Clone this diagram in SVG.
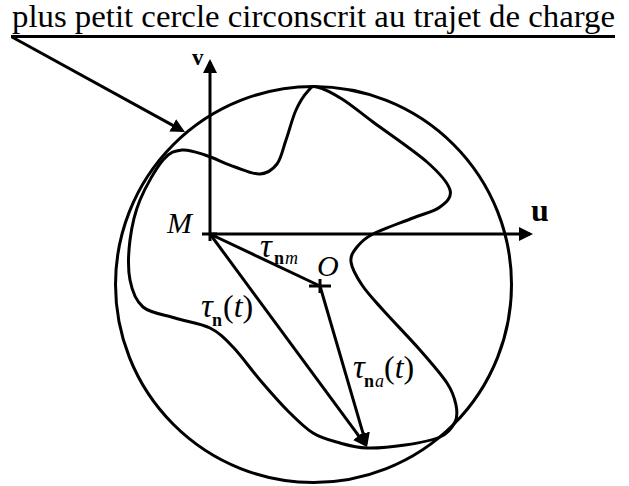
<svg xmlns="http://www.w3.org/2000/svg" width="629" height="486" viewBox="0 0 629 486">
<style>
.ln{fill:none;stroke:#000;stroke-width:3;stroke-linecap:butt;stroke-linejoin:round}
text{font-family:"Liberation Serif","Times New Roman",serif;fill:#000}
.it{font-style:italic}
.bd{font-weight:bold}
</style>
<defs>
<marker id="ah" markerWidth="16" markerHeight="16" refX="11" refY="7" orient="auto" markerUnits="userSpaceOnUse">
<path d="M0,0 L14,7 L0,14 z" fill="#000"/>
</marker>
</defs>
<rect width="629" height="486" fill="#fff"/>
<g id="title">
<text x="12" y="27" font-size="31" textLength="603" lengthAdjust="spacingAndGlyphs">plus petit cercle circonscrit au trajet de charge</text>
<line class="ln" x1="11" y1="36.5" x2="615" y2="36.5"/>
</g>
<g id="circle">
<circle class="ln" cx="313.5" cy="284.5" r="198"/>
</g>
<g id="trajet">
<path class="ln" d="M317,87 C322.67,88.33 332.67,93.17 342,99 C351.33,104.83 358.83,111.5 373,122 C387.17,132.5 414.17,150.67 427,162 C439.83,173.33 447.83,182.5 450,190 C452.170,197.5 446.17,202.33 440,207 C433.83,211.67 424.17,213.5 413,218 C401.83,222.5 382.33,229.17 373,234 C363.67,238.83 360.67,242.33 357,247 C353.33,251.67 350.17,255.67 351,262 C351.83,268.33 356.67,277 362,285 C367.33,293 373.33,299.17 383,310 C392.67,320.83 409.33,337.83 420,350 C430.67,362.17 441,373.83 447,383 C453,392.17 454.67,398.5 456,405 C457.33,411.5 457.67,416.67 455,422 C452.33,427.33 448.33,433.17 440,437 C431.67,440.83 417.17,443.17 405,445 C392.83,446.83 377.83,448.33 367,448 C356.17,447.67 349,445.5 340,443 C331,440.5 321.83,438.5 313,433 C304.17,427.5 295.83,418.83 287,410 C278.17,401.17 269,390.5 260,380 C251,369.5 241.33,355.67 233,347 C224.67,338.33 219.67,332.83 210,328 C200.33,323.17 186.17,321.5 175,318 C163.83,314.5 150.5,313.33 143,307 C135.5,300.67 132.17,291.17 130,280 C127.83,268.83 128.33,253.33 130,240 C131.67,226.67 134.5,213.33 140,200 C145.5,186.67 156,168.33 163,160 C170,151.67 175,150.83 182,150 C189,149.17 196.17,152.17 205,155 C213.83,157.83 225.83,163.83 235,167 C244.17,170.17 253,174.5 260,174 C267,173.5 272.67,169.67 277,164 C281.33,158.33 282.83,149 286,140 C289.17,131 292.33,118.17 296,110 C299.67,101.83 304.5,94.83 308,91 C311.5,87.17 311.33,85.67 317,87 Z"/>
</g>
<g id="M">
<line class="ln" x1="202" y1="234" x2="217" y2="234"/>
<line class="ln" x1="210" y1="234" x2="210" y2="241"/>
<text class="it" x="167" y="233" font-size="30">M</text>
</g>
<g id="O">
<line class="ln" x1="309" y1="286" x2="331" y2="286"/>
<line class="ln" x1="320" y1="279" x2="320" y2="293"/>
<text class="it" x="317" y="276" font-size="30">O</text>
</g>
<g id="axes">
<line class="ln" x1="210" y1="234" x2="530" y2="234" marker-end="url(#ah)"/>
<line class="ln" x1="210" y1="234" x2="210" y2="62" marker-end="url(#ah)"/>
<text class="bd" x="531" y="221" font-size="32">u</text>
<text class="bd" x="192" y="65" font-size="23">v</text>
</g>
<g id="connectors">
<line class="ln" x1="12" y1="37" x2="182.4" y2="130.6" marker-end="url(#ah)"/>
<line class="ln" x1="210" y1="234" x2="320" y2="286"/>
<line class="ln" x1="210" y1="234" x2="365.2" y2="444.6" marker-end="url(#ah)"/>
<line class="ln" x1="320" y1="286" x2="366.2" y2="444.1" marker-end="url(#ah)"/>
</g>
<g id="labels">
<text class="it" x="260" y="257" font-size="33">τ</text>
<text class="bd" x="274" y="264" font-size="18">n</text>
<text class="it" x="285" y="264" font-size="18">m</text>
<text class="it" x="201" y="317" font-size="33">τ</text>
<text class="bd" x="212" y="326" font-size="18">n</text>
<text x="223" y="317" font-size="32">(<tspan class="it">t</tspan>)</text>
<text class="it" x="353" y="378" font-size="33">τ</text>
<text class="bd" x="364" y="387" font-size="18">n</text>
<text class="it" x="375" y="387" font-size="18">a</text>
<text x="384" y="378" font-size="32">(<tspan class="it">t</tspan>)</text>
</g>
</svg>
